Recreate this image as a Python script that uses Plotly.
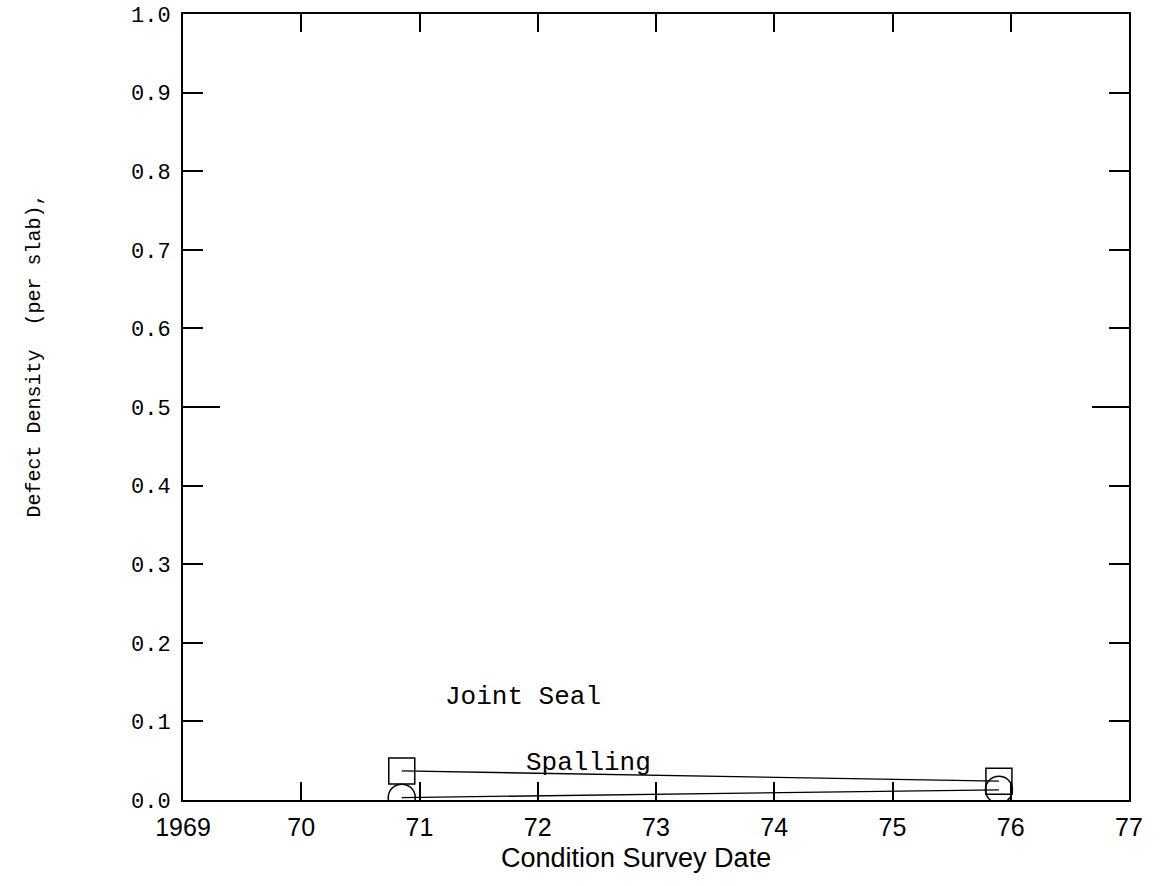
import plotly.graph_objects as go

# Survey years (decimal) and defect densities per slab
survey_dates = [70.85, 75.9]
joint_seal = [0.037, 0.024]
spalling = [0.003, 0.013]

x_tick_vals = [69, 70, 71, 72, 73, 74, 75, 76, 77]
x_tick_text = ["1969", "70", "71", "72", "73", "74", "75", "76", "77"]
y_tick_vals = [0.0, 0.1, 0.2, 0.3, 0.4, 0.5, 0.6, 0.7, 0.8, 0.9, 1.0]
y_tick_text = ["0.0", "0.1", "0.2", "0.3", "0.4", "0.5", "0.6", "0.7", "0.8", "0.9", "1.0"]

mono = "Liberation Mono"
sans = "Liberation Sans"

fig = go.Figure()

fig.add_trace(go.Scatter(
    x=survey_dates, y=joint_seal, mode="lines+markers", name="Joint Seal",
    line=dict(color="black", width=1.3),
    marker=dict(symbol="square-open", size=26, color="black", line=dict(width=1.5)),
    showlegend=False,
))
fig.add_trace(go.Scatter(
    x=survey_dates, y=spalling, mode="lines+markers", name="Spalling",
    line=dict(color="black", width=1.3),
    marker=dict(symbol="circle-open", size=27, color="black", line=dict(width=1.5)),
    showlegend=False,
))

fig.add_annotation(x=71.875, y=0.131, text="Joint Seal", showarrow=False,
                   font=dict(family=mono, size=26, color="black"))
fig.add_annotation(x=72.43, y=0.047, text="Spalling", showarrow=False,
                   font=dict(family=mono, size=26, color="black"))

fig.add_annotation(xref="paper", yref="paper", x=-0.157, y=0.566,
                   xanchor="center", yanchor="middle",
                   text="Defect Density\u00a0\u00a0(per slab),", textangle=-90,
                   showarrow=False, font=dict(family=mono, size=20, color="black"))
fig.add_annotation(xref="paper", yref="paper", x=0.479, y=-0.074,
                   xanchor="center", yanchor="middle",
                   text="Condition Survey Date", showarrow=False,
                   font=dict(family=sans, size=27, color="black"))

fig.update_layout(
    width=1163, height=886,
    margin=dict(l=183, r=34, t=14, b=86),
    paper_bgcolor="white", plot_bgcolor="white",
    xaxis=dict(
        range=[69, 77], tickvals=x_tick_vals, ticktext=x_tick_text,
        ticks="inside", ticklen=18, tickwidth=2, tickcolor="black",
        showline=True, linecolor="black", linewidth=2, mirror="ticks",
        showgrid=False, zeroline=False, automargin=False,
        tickfont=dict(family=sans, size=25, color="black"),
        ticklabelstandoff=4,
    ),
    yaxis=dict(
        range=[0, 1.0], tickvals=y_tick_vals, ticktext=y_tick_text,
        ticks="inside", ticklen=20, tickwidth=2, tickcolor="black",
        showline=True, linecolor="black", linewidth=2, mirror="ticks",
        showgrid=False, zeroline=False, automargin=False,
        tickfont=dict(family=mono, size=22, color="black"),
        ticklabelstandoff=6,
    ),
    yaxis2=dict(
        range=[0, 1.0], overlaying="y", tickvals=[0.5], showticklabels=False,
        ticks="inside", ticklen=37, tickwidth=2, tickcolor="black",
        showline=False, mirror="ticks", showgrid=False, zeroline=False,
        automargin=False,
    ),
)
# invisible trace so the secondary axis (long mid-scale tick) is drawn
fig.add_trace(go.Scatter(x=[None], y=[None], yaxis="y2", showlegend=False,
                         hoverinfo="skip"))

fig.write_html("out.html")
